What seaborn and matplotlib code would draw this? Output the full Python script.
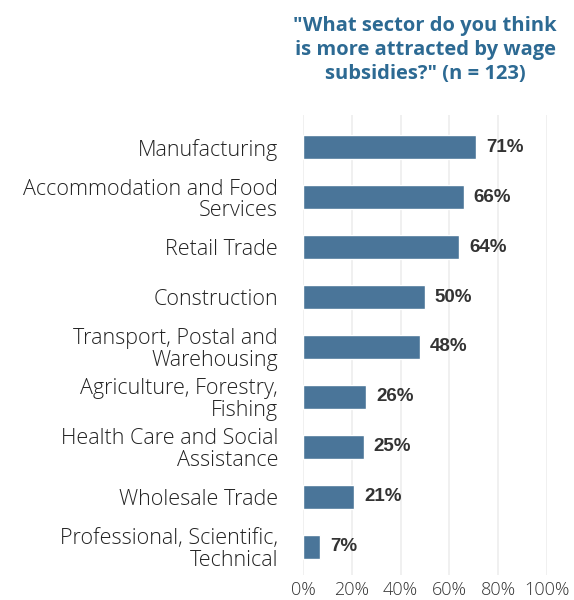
import matplotlib
matplotlib.use("Agg")
import matplotlib.pyplot as plt
import seaborn as sns
import pandas as pd
from matplotlib.ticker import PercentFormatter

sectors = [
    "Manufacturing",
    "Accommodation and Food\nServices",
    "Retail Trade",
    "Construction",
    "Transport, Postal and\nWarehousing",
    "Agriculture, Forestry,\nFishing",
    "Health Care and Social\nAssistance",
    "Wholesale Trade",
    "Professional, Scientific,\nTechnical",
]
shares = [71, 66, 64, 50, 48, 26, 25, 21, 7]
x_ticks = [0, 20, 40, 60, 80, 100]
title = '"What sector do you think\nis more attracted by wage\nsubsidies?" (n = 123)'

df = pd.DataFrame({"sector": sectors, "share": shares})

sns.set_style("whitegrid")
plt.rcParams["font.family"] = ["Open Sans", "DejaVu Sans"]

fig = plt.figure(figsize=(5.74, 6.0), dpi=100)
ax = fig.add_axes([0.528, 0.0417, 0.425, 0.7666])

sns.barplot(data=df, x="share", y="sector", orient="h", color="#4a7599",
            saturation=1, width=0.48, ax=ax)

for i, v in enumerate(shares):
    ax.text(v + 4, i, f"{v}%", va="center", ha="left", fontsize=13.5,
            fontweight="bold", color="#333333", family="Liberation Sans")

ax.set_xlim(0, 100)
ax.set_ylim(8.56, -0.64)
ax.set_xticks(x_ticks)
ax.xaxis.set_major_formatter(PercentFormatter(decimals=0))
ax.set_xlabel("")
ax.set_ylabel("")
ax.grid(axis="x", color="#eeeeee", linewidth=1.2)
ax.grid(axis="y", visible=False)
for s in ax.spines.values():
    s.set_visible(False)
ax.tick_params(axis="x", length=0, pad=4, labelsize=13, labelcolor="#333333")
ax.tick_params(axis="y", length=0, pad=18, labelsize=15.5, labelcolor="#222222")
for lab in ax.get_yticklabels() + ax.get_xticklabels():
    lab.set_fontweight("light")
for lab in ax.get_yticklabels():
    lab.set_linespacing(1.05)

ax.set_title(title, fontsize=14.5, fontweight="bold", color="#2d6a93",
             linespacing=1.25, pad=26)

fig.savefig("out.png", dpi=100)
